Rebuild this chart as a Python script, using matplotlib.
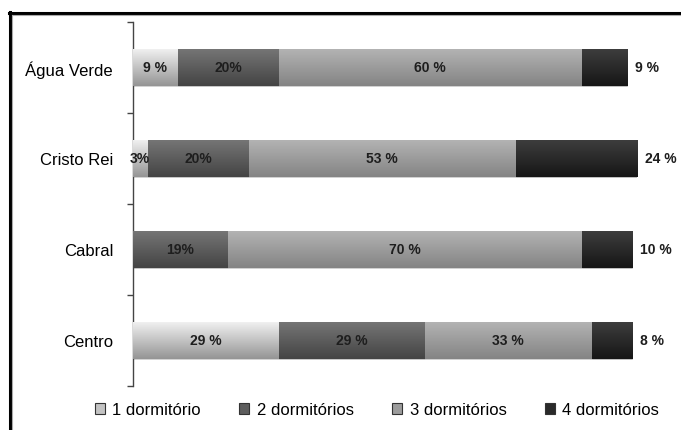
import numpy as np
import matplotlib.pyplot as plt
from matplotlib.colors import LinearSegmentedColormap
from matplotlib.patches import Patch
from matplotlib.lines import Line2D

plt.rcParams['font.family'] = ['Liberation Sans', 'DejaVu Sans']

bairros = ['Água Verde', 'Cristo Rei', 'Cabral', 'Centro']
series = ['1 dormitório', '2 dormitórios', '3 dormitórios', '4 dormitórios']
um_dorm = [9, 3, 0, 29]
dois_dorm = [20, 20, 19, 29]
tres_dorm = [60, 53, 70, 33]
quatro_dorm = [9, 24, 10, 8]

# label format per bar (some carry a space before the % sign)
fmt_um = ['{} %', '{}%', None, '{} %']
fmt_dois = ['{}%', '{}%', '{}%', '{} %']
fmt_tres = ['{} %', '{} %', '{} %', '{} %']
fmt_quatro = ['{} %', '{} %', '{} %', '{} %']

# gradient (top, bottom) for each series
tons = [('#f2f2f2', '#959595'), ('#767676', '#444444'),
        ('#b4b4b4', '#848484'), ('#3e3e3e', '#161616')]

fig = plt.figure(figsize=(6.81, 4.31), dpi=100)
ax = fig.add_axes([132.5 / 681, 44 / 431, 504.5 / 681, 364 / 431])

y = np.arange(len(bairros))[::-1]
valores = [um_dorm, dois_dorm, tres_dorm, quatro_dorm]
formatos = [fmt_um, fmt_dois, fmt_tres, fmt_quatro]
gradiente = np.linspace(0, 1, 64).reshape(-1, 1)

esquerda = np.zeros(len(bairros))
for vals, fmts, (topo, base) in zip(valores, formatos, tons):
    barras = ax.barh(y, vals, left=esquerda, height=0.41, color=base,
                     edgecolor='#d8d8d8', linewidth=0.5, zorder=2)
    cmap = LinearSegmentedColormap.from_list('g', [topo, base])
    for b in barras:
        x0, y0 = b.get_x(), b.get_y()
        w, h = b.get_width(), b.get_height()
        if w <= 0:
            continue
        im = ax.imshow(gradiente, cmap=cmap, aspect='auto', origin='upper',
                       extent=[x0, x0 + w, y0, y0 + h], zorder=3)
        im.set_clip_path(b)
    esquerda = esquerda + np.array(vals)
    if fmts is fmt_quatro:
        continue
    for yi, v, x0, f in zip(y, vals, esquerda - np.array(vals), fmts):
        if f is None or v == 0:
            continue
        ax.text(x0 + v / 2, yi, f.format(v), ha='center', va='center',
                fontsize=10, fontweight='bold', color='#1e1e1e', zorder=4)

# last series value written after the bar end
for yi, v, fim, f in zip(y, quatro_dorm, esquerda, fmt_quatro):
    ax.annotate(f.format(v), (fim, yi), xytext=(6, 0), textcoords='offset points',
                ha='left', va='center', fontsize=10, fontweight='bold',
                color='#1e1e1e', annotation_clip=False)

ax.set_xlim(0, 100)
ax.set_ylim(-0.5, len(bairros) - 0.5)
ax.set_yticks(y)
ax.set_yticklabels(bairros, fontsize=12)
ax.tick_params(axis='y', which='major', length=0, pad=14)
ax.set_yticks(np.arange(len(bairros) + 1) - 0.5, minor=True)
ax.tick_params(axis='y', which='minor', length=4.5, width=1, color='#444444')
ax.set_xticks([])
for lado in ['top', 'right', 'bottom']:
    ax.spines[lado].set_visible(False)
ax.spines['left'].set_color('#444444')
ax.spines['left'].set_linewidth(1)

# frame lines along the top and left edges
fig.add_artist(Line2D([9 / 681, 1], [1 - 14 / 431] * 2, color='black', lw=2.2))
fig.add_artist(Line2D([9 / 681, 1], [1 - 16 / 431] * 2, color='#aaaaaa', lw=0.8))
fig.add_artist(Line2D([10 / 681] * 2, [0, 1 - 13 / 431], color='black', lw=2.2))
fig.add_artist(Line2D([12 / 681] * 2, [0, 1 - 16 / 431], color='#aaaaaa', lw=0.8))

# legend swatches use the middle of each gradient
alcas = [Patch(facecolor=LinearSegmentedColormap.from_list('m', c)(0.5),
               edgecolor='#333333', linewidth=0.8) for c in tons]
fig.legend(alcas, series, loc='center', bbox_to_anchor=(377 / 681, 1 - 411 / 431),
           ncol=4, frameon=False, fontsize=12, handlelength=0.6, handleheight=0.6,
           handletextpad=0.45, columnspacing=2.3)

fig.savefig('out.png', dpi=100)
